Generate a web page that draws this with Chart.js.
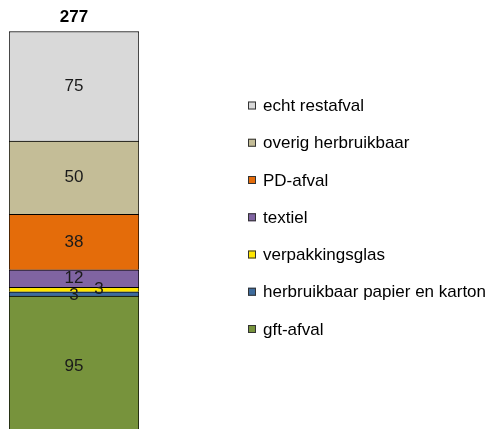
<!DOCTYPE html>
<html>
<head>
<meta charset="utf-8">
<script src="https://cdn.jsdelivr.net/npm/chart.js@4/dist/chart.umd.min.js"></script>
<style>
  html, body { margin: 0; padding: 0; overflow: hidden; background: #fff; width: 490px; height: 429px; }
  #wrap { position: relative; width: 490px; height: 436px; }
</style>
</head>
<body>
<div id="wrap"><canvas id="c" width="490" height="436"></canvas></div>
<script>
// ---- data (bottom to top of the stack) ----
const categories = ['afval'];
const seriesNames = [
  'gft-afval',
  'herbruikbaar papier en karton',
  'verpakkingsglas',
  'textiel',
  'PD-afval',
  'overig herbruikbaar',
  'echt restafval'
];
const gftAfval = [95];
const papierKarton = [3];
const verpakkingsglas = [3];
const textiel = [12];
const pdAfval = [38];
const overigHerbruikbaar = [50];
const echtRestafval = [75];
const totalLabels = ['277'];
const yMax = 277;

// ---- styling ----
const seriesColors = ['#77933c', '#3d6b9c', '#ffe600', '#8064a2', '#e46c0a', '#c4bd97', '#d9d9d9'];
const labelShiftX = [0, 0, 25, 0, 0, 0, 0];
const labelShiftY = [1, 1, 0, 0, 0, 0, 0];
const FONT = '"Liberation Sans", Arial, sans-serif';

const seriesValues = [gftAfval, papierKarton, verpakkingsglas, textiel, pdAfval, overigHerbruikbaar, echtRestafval];

const datasets = seriesNames.map((name, i) => ({
  label: name,
  data: seriesValues[i],
  backgroundColor: seriesColors[i],
  borderColor: '#000',
  borderWidth: 1,
  borderSkipped: 'start',
  barPercentage: 1,
  categoryPercentage: 1
}));

const labelsPlugin = {
  id: 'segLabels',
  afterDatasetsDraw(chart) {
    const ctx = chart.ctx;
    ctx.save();
    ctx.font = '17px ' + FONT;
    ctx.fillStyle = '#1a1a1a';
    ctx.textAlign = 'center';
    ctx.textBaseline = 'middle';
    chart.data.datasets.forEach((ds, i) => {
      const meta = chart.getDatasetMeta(i);
      meta.data.forEach((bar, j) => {
        const p = bar.getProps(['x', 'y', 'base'], true);
        const cy = (p.y + p.base) / 2;
        ctx.fillText(String(ds.data[j]), p.x + labelShiftX[i], cy + labelShiftY[i]);
      });
    });
    // totals above the stack
    const topMeta = chart.getDatasetMeta(chart.data.datasets.length - 1);
    ctx.font = 'bold 17px ' + FONT;
    ctx.fillStyle = '#000';
    ctx.textBaseline = 'bottom';
    topMeta.data.forEach((bar, j) => {
      const p = bar.getProps(['x', 'y'], true);
      ctx.fillText(totalLabels[j], p.x, p.y - 6);
    });
    ctx.restore();
  }
};

const legendPlugin = {
  id: 'sideLegend',
  afterDraw(chart, args, opts) {
    const ctx = chart.ctx;
    ctx.save();
    ctx.font = '17px ' + FONT;
    ctx.textBaseline = 'middle';
    ctx.textAlign = 'left';
    const n = chart.data.datasets.length;
    for (let k = 0; k < n; k++) {
      const i = n - 1 - k; // reverse: top of stack first
      const ds = chart.data.datasets[i];
      const cy = opts.top + k * opts.step;
      ctx.fillStyle = ds.backgroundColor;
      ctx.fillRect(opts.x, cy - 4, 8, 8);
      ctx.strokeStyle = '#333';
      ctx.lineWidth = 1;
      ctx.strokeRect(opts.x + 0.5, cy - 3.5, 7, 7);
      ctx.fillStyle = '#000';
      ctx.fillText(ds.label, opts.x + 15, cy + 1);
    }
    ctx.restore();
  }
};

new Chart(document.getElementById('c'), {
  type: 'bar',
  data: { labels: categories, datasets },
  options: {
    responsive: false,
    animation: false,
    layout: { padding: { left: 9, right: 351, top: 30, bottom: 1 } },
    scales: {
      x: { stacked: true, display: false, offset: true },
      y: { stacked: true, display: false, min: 0, max: yMax }
    },
    plugins: {
      legend: { display: false },
      tooltip: { enabled: false },
      sideLegend: { x: 248, top: 105.5, step: 37.25 }
    }
  },
  plugins: [labelsPlugin, legendPlugin]
});
</script>
</body>
</html>
